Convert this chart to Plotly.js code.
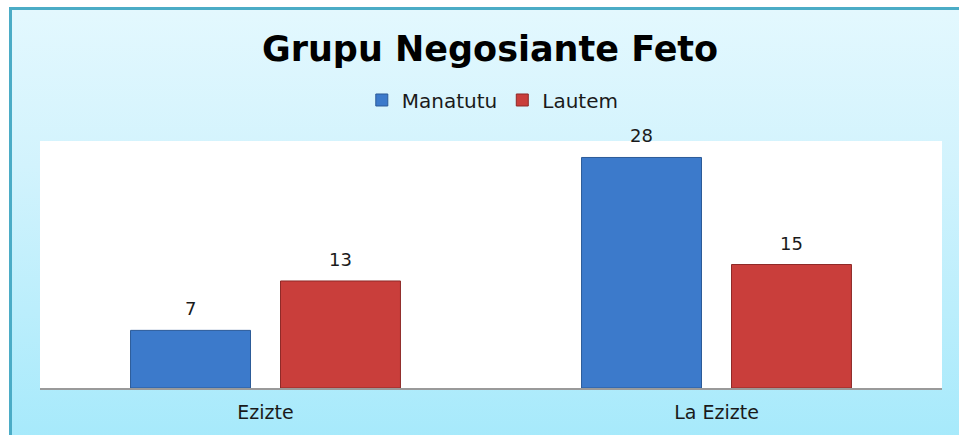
<!DOCTYPE html>
<html>
<head>
<meta charset="utf-8">
<script src="https://cdn.plot.ly/plotly-3.0.1.min.js"></script>
<style>
  html, body { margin: 0; padding: 0; background: #ffffff; width: 959px; height: 435px; overflow: hidden; }
  #frame { position: absolute; left: 9px; top: 7px; width: 970px; height: 450px;
           border: 3px solid #4bacc6; box-sizing: border-box;
           background: linear-gradient(to bottom, #e3f8fe 0%, #d2f3fd 35%, #a4e9fb 100%); }
  #chart { position: absolute; left: 0; top: 0; width: 959px; height: 435px; }
</style>
</head>
<body>
<div id="frame"></div>
<div id="chart"></div>
<script>
const categories = ["Ezizte", "La Ezizte"];
const manatutu = [7, 28];
const lautem = [13, 15];
const seriesNames = ["Manatutu", "Lautem"];

const FONT = "'DejaVu Sans', 'Open Sans', sans-serif";

const traces = [
  { type: "bar", name: seriesNames[0], x: categories, y: manatutu,
    marker: { color: "#3c7acb", line: { color: "#2c5b98", width: 1 } }, hoverinfo: "none" },
  { type: "bar", name: seriesNames[1], x: categories, y: lautem,
    marker: { color: "#c93e3b", line: { color: "#8f2a28", width: 1 } }, hoverinfo: "none" }
];

const annotations = [];
[manatutu, lautem].forEach((vals, si) => {
  vals.forEach((v, ci) => {
    annotations.push({
      x: categories[ci], y: v, xref: "x", yref: "y",
      xshift: si === 0 ? -75 : 75,
      text: String(v), showarrow: false, yanchor: "bottom", yshift: 9,
      font: { family: FONT, size: 18, color: "#1a1a1a" }
    });
  });
});

const layout = {
  width: 959, height: 435,
  paper_bgcolor: "rgba(0,0,0,0)", plot_bgcolor: "#ffffff",
  margin: { l: 40, r: 17, t: 141, b: 47, pad: 0 },
  title: { text: "<b>Grupu Negosiante Feto</b>", x: 0.511, xanchor: "center",
           y: 1 - 49/435, yanchor: "middle", yref: "container",
           font: { family: FONT, size: 35, color: "#000000" } },
  showlegend: true,
  legend: { orientation: "h", x: 0.502, xanchor: "center", y: 1.166, yanchor: "middle",
            bgcolor: "rgba(0,0,0,0)", traceorder: "normal",
            font: { family: FONT, size: 20, color: "#1a1a1a" } },
  barmode: "group", bargap: 0.335, bargroupgap: 0.2,
  xaxis: { type: "category", showgrid: false, zeroline: false, showline: true,
           linecolor: "#9a9a9a", linewidth: 1.5, ticks: "", ticklen: 0, ticklabelstandoff: 7,
           tickfont: { family: FONT, size: 19, color: "#1a1a1a" },
           fixedrange: true },
  yaxis: { range: [0, 30], showgrid: false, zeroline: false, showticklabels: false,
           ticks: "", showline: false, fixedrange: true },
  annotations: annotations
};

Plotly.newPlot("chart", traces, layout, { displayModeBar: false, staticPlot: true });
</script>
</body>
</html>
